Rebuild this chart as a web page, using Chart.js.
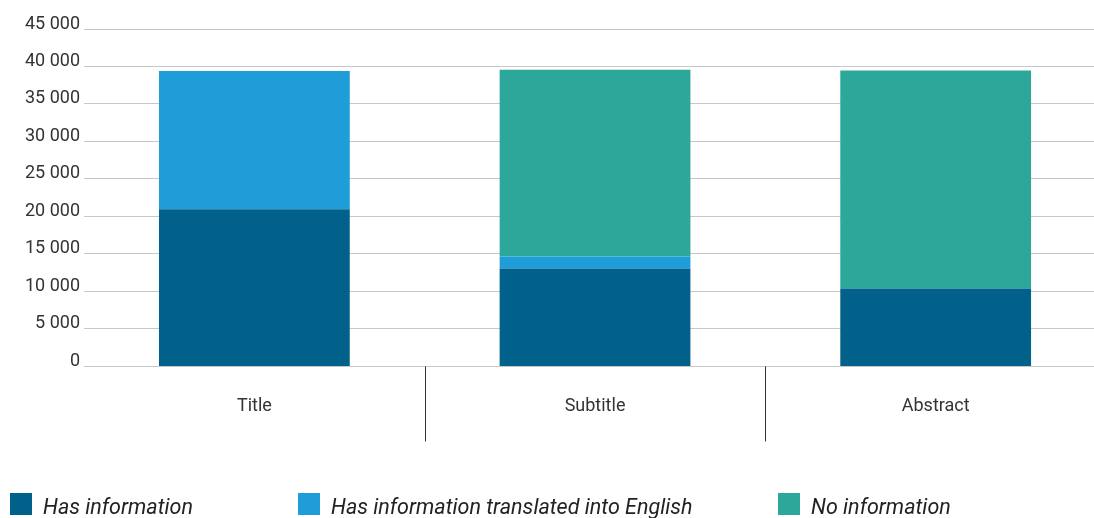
<!DOCTYPE html>
<html>
<head>
<meta charset="utf-8">
<script src="https://cdn.jsdelivr.net/npm/chart.js@4"></script>
<style>
  body { margin: 0; background: #fff; overflow: hidden; }
  #wrap { width: 1106px; height: 518px; position: relative; }
  #leyenda { position: absolute; left: 10px; top: 493px; white-space: nowrap;
             font-family: Roboto, sans-serif; font-style: italic; font-size: 21.5px; color: #222; }
  .item { display: inline-block; vertical-align: top; }
  .caja { display: inline-block; width: 22px; height: 22px; margin-right: 11px; vertical-align: top; }
  .texto { display: inline-block; vertical-align: top; line-height: 22px; padding-top: 3px; }
</style>
</head>
<body>
<div id="wrap">
  <canvas id="myChart"></canvas>
  <div id="leyenda"></div>
</div>
<script>
const categorias = ["Title", "Subtitle", "Abstract"];
const conInfo = [20950, 13050, 10400];
const traducido = [18450, 1600, 0];
const sinInfo = [0, 24900, 29050];
const etiquetas = ["Has information", "Has information translated into English", "No information"];
const colores = ["#01618a", "#1f9dd9", "#2ca79a"];
const anchosLeyenda = [288, 480, 300];

const myChart = document.getElementById("myChart");

const datasets = [
    { label: etiquetas[0], data: conInfo, backgroundColor: colores[0] },
    { label: etiquetas[1], data: traducido, backgroundColor: colores[1] },
    { label: etiquetas[2], data: sinInfo, backgroundColor: colores[2] }
];

// lineas verticales entre categorias, debajo del eje
const separadores = {
    id: "separadores",
    afterDraw(chart) {
        const x = chart.scales.x;
        const ctx = chart.ctx;
        const base = chart.chartArea.bottom;
        ctx.save();
        ctx.strokeStyle = "#333";
        ctx.lineWidth = 1;
        for (let i = 1; i < x.ticks.length; i++) {
            const px = Math.round((x.getPixelForTick(i - 1) + x.getPixelForTick(i)) / 2) + 0.5;
            ctx.beginPath();
            ctx.moveTo(px, base);
            ctx.lineTo(px, base + 75);
            ctx.stroke();
        }
        ctx.restore();
    }
};

const chart = new Chart(myChart, {
    type: "bar",
    data: { labels: categorias, datasets },
    plugins: [separadores],
    options: {
        responsive: true,
        maintainAspectRatio: false,
        animation: false,
        datasets: { bar: { barPercentage: 0.56, categoryPercentage: 1 } },
        layout: { padding: { top: 29, left: 21, right: 0, bottom: 80 } },
        plugins: {
            tooltip: { enabled: false },
            legend: { display: false }
        },
        scales: {
            x: {
                stacked: true,
                border: { display: false },
                grid: { display: false },
                ticks: {
                    padding: 21,
                    color: "#333",
                    font: { family: "Roboto", size: 18 }
                }
            },
            y: {
                stacked: true,
                min: 0,
                max: 45000,
                border: { display: false },
                grid: { color: "#c8c8c8", drawTicks: false },
                ticks: {
                    stepSize: 5000,
                    padding: 4,
                    labelOffset: -5,
                    color: "#333",
                    font: { family: "Roboto", size: 18 },
                    callback: (v) => v >= 1000 ? Math.floor(v / 1000) + " " + String(v % 1000).padStart(3, "0") : String(v)
                }
            }
        }
    }
});

// leyenda en html construida desde los datasets
const leyenda = document.getElementById("leyenda");
chart.data.datasets.forEach((ds, i) => {
    const item = document.createElement("span");
    item.className = "item";
    item.style.width = anchosLeyenda[i] + "px";
    item.innerHTML = `<span class="caja" style="background:${ds.backgroundColor}"></span><span class="texto">${ds.label}</span>`;
    leyenda.appendChild(item);
});
</script>
</body>
</html>
